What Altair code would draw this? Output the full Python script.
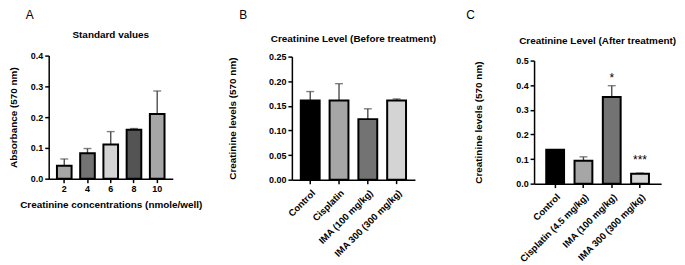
import altair as alt
import pandas as pd

FONT = "Liberation Sans, Arial, sans-serif"

# ---------------- data ----------------
a_conc = ["2", "4", "6", "8", "10"]
a_mean = [0.042, 0.083, 0.111, 0.159, 0.210]
a_err = [0.022, 0.015, 0.042, 0.004, 0.075]
a_colors = ["#a6a6a6", "#737373", "#d4d4d4", "#545454", "#a6a6a6"]

b_groups = ["Control", "Cisplatin", "IMA (100 mg/kg)", "IMA 300 (300 mg/kg)"]
b_mean = [0.161, 0.161, 0.123, 0.161]
b_err = [0.018, 0.034, 0.021, 0.003]

c_groups = ["Control", "Cisplatin (4.5 mg/kg)", "IMA (100 mg/kg)", "IMA 300 (300 mg/kg)"]
c_mean = [0.138, 0.093, 0.352, 0.040]
c_err = [None, 0.016, 0.046, 0.003]
c_sig = ["", "", "*", "***"]
c_sig_y = [None, None, 0.431, 0.097]

group_colors = ["#000000", "#a6a6a6", "#737373", "#d4d4d4"]


def text_layer(txt, x, y, size, weight, baseline="middle"):
    return alt.Chart(pd.DataFrame({"t": [txt]})).mark_text(
        font=FONT, fontSize=size, fontWeight=weight, color="black",
        align="center", baseline=baseline
    ).encode(text="t:N", x=alt.value(x), y=alt.value(y))


def panel(cats, means, errs, colors, width, height, yrange, ydomain, yvalues,
          yfmt, ytitle, ytp, xtitle, angle, pi, po, title, title_y,
          letter, letter_x, sig=None, sig_y=None):
    df = pd.DataFrame({"cat": cats, "mean": means, "err": errs, "color": colors})
    df["upper"] = df["mean"] + df["err"].astype(float)
    err_df = df.dropna(subset=["err"])

    xscale = alt.Scale(paddingInner=pi, paddingOuter=po)
    if angle:
        xaxis = alt.Axis(title=xtitle, labelAngle=angle, labelPadding=4,
                         labelFontSize=9.5)
    else:
        xaxis = alt.Axis(title=xtitle, labelAngle=0, titlePadding=6,
                         labelPadding=2)
    yscale = alt.Scale(domain=ydomain, range=yrange, nice=False, zero=True)
    yaxis = alt.Axis(values=yvalues, format=yfmt, title=ytitle,
                     titlePadding=ytp, labelFlush=False, labelOverlap=False)

    def X():
        return alt.X("cat:N", sort=cats, scale=xscale, axis=xaxis)

    def Y(field):
        return alt.Y(field, scale=yscale, axis=yaxis, title=ytitle)

    rule = alt.Chart(err_df).mark_rule(color="#4d4d4d", strokeWidth=1.4).encode(
        x=X(), y=Y("mean:Q"), y2="upper:Q")
    cap = alt.Chart(err_df).mark_tick(
        orient="horizontal", size=8, thickness=1.4, color="#4d4d4d"
    ).encode(x=X(), y=Y("upper:Q"))
    bars = alt.Chart(df).mark_bar(stroke="black", strokeWidth=2).encode(
        x=X(), y=Y("mean:Q"), color=alt.Color("color:N", scale=None))

    layers = [rule, cap, bars]
    if sig is not None:
        sdf = pd.DataFrame({"cat": cats, "sig": sig, "sy": sig_y}).dropna()
        layers.append(
            alt.Chart(sdf).mark_text(font=FONT, fontSize=12, color="black",
                                     baseline="middle").encode(
                x=X(), y=Y("sy:Q"), text="sig:N"))
    layers.append(text_layer(title, width / 2, title_y, 10, "bold"))
    layers.append(text_layer(letter, letter_x, -46, 12, "normal", baseline="top"))
    return alt.layer(*layers).properties(width=width, height=height)


pa = panel(a_conc, a_mean, a_err, a_colors, 125, 124, [124, 0], [0, 0.4],
           [0, 0.1, 0.2, 0.3, 0.4], ".1f", "Absorbance (570 nm)", 12,
           "Creatinine concentrations (nmole/well)", 0, 0.37, 0.355,
           "Standard values", -21, "A", -19)

pb = panel(b_groups, b_mean, b_err, group_colors, 124, 125, [125, 1], [0, 0.25],
           [0, 0.05, 0.10, 0.15, 0.20, 0.25], ".2f", "Creatinine levels (570 nm)", 31,
           None, 315, 0.345, 0.31,
           "Creatinine Level (Before treatment)", -17, "B", -49)

pc = panel(c_groups, c_mean, c_err, group_colors, 128, 129, [129, 5], [0, 0.5],
           [0, 0.1, 0.2, 0.3, 0.4, 0.5], ".1f", "Creatinine levels (570 nm)", 32,
           None, 315, 0.37, 0.43,
           "Creatinine Level (After treatment)", -15, "C", -64,
           sig=c_sig, sig_y=c_sig_y)

chart = alt.hconcat(pa, pb, pc, spacing=120, bounds="flush").resolve_scale(
    x="independent", y="independent"
).properties(
    padding={"left": 0, "top": 0, "right": 0, "bottom": 0},
    background="white",
).configure_view(stroke=None).configure_axis(
    domainColor="black", domainWidth=1.5, tickColor="black", tickWidth=1.5,
    tickSize=4, grid=False, labelFont=FONT, labelFontWeight="bold",
    labelFontSize=9, labelColor="black", titleFont=FONT, titleFontWeight="bold",
    titleFontSize=10, titleColor="black"
)

chart.save("out.html", embed_options={"renderer": "svg", "actions": False})
